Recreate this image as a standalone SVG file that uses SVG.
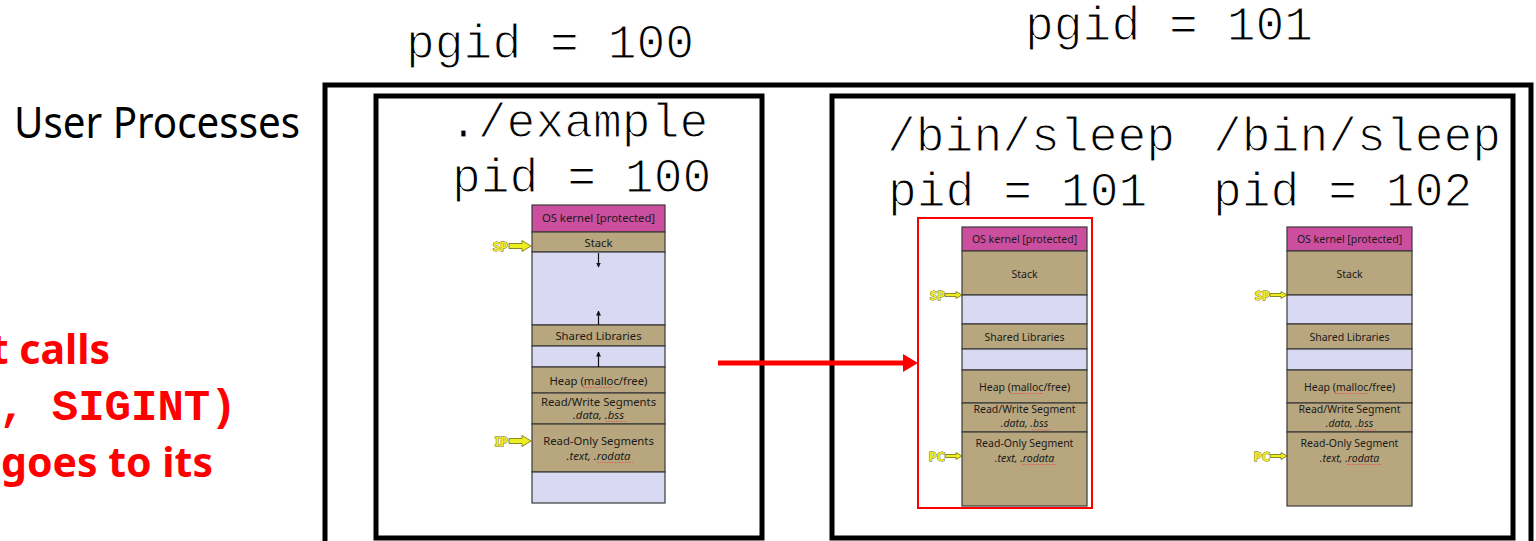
<svg xmlns="http://www.w3.org/2000/svg" xmlns:xlink="http://www.w3.org/1999/xlink" width="1536" height="541" viewBox="0 0 1536 541">
  <style>
    .mono { font-family: "Liberation Mono", "Courier New", monospace; font-size: 48px; fill: #000; stroke: #FFFFFF; stroke-width: 1.2; }
    .title { font-family: "Noto Sans", "Open Sans", sans-serif; font-size: 43px; fill: #000; }
    .note { font-family: "Noto Sans", "Open Sans", sans-serif; font-size: 41px; font-weight: bold; fill: #FF0000; }
    .notemono { font-family: "Liberation Mono", "Courier New", monospace; font-size: 44px; font-weight: bold; fill: #FF0000; }
    .frame { fill: none; stroke: #000; stroke-width: 5; }
    .cell { stroke: #3a3a3a; stroke-width: 1.2; }
    .kern { fill: #CC4F9F; }
    .seg { fill: #B8A67E; }
    .free { fill: #D9D9F4; }
    .lbl { font-family: "Noto Sans", "Open Sans", sans-serif; font-size: 10.5px; fill: #1a1a1a; text-anchor: middle; }
    .big { font-size: 11.3px; }
    .ital { font-style: italic; }
    .squig { fill: none; stroke: #E05A5A; stroke-width: 0.9; stroke-dasharray: 1.5 1; }
    .ptr { fill: #EDED1F; stroke: #5C5C00; stroke-width: 0.7; }
    .ptrlbl { font-family: "Noto Sans", "Open Sans", sans-serif; font-weight: bold; font-size: 13px; fill: #EDED1F; stroke: #5C5C00; stroke-width: 0.8; paint-order: stroke; text-anchor: end; }
    .grow { stroke: #111; stroke-width: 1.2; marker-end: url(#tip); }
    .signal { stroke: #FF0000; stroke-width: 5; fill: none; }
  </style>
  <defs>
    <marker id="tip" markerWidth="5" markerHeight="5" refX="4.5" refY="2.5" orient="auto" markerUnits="userSpaceOnUse">
      <path d="M0,0 L5,2.5 L0,5 z" fill="#111"/>
    </marker>
    <!-- address space of a /bin/sleep process, top-left of the column at (0,0) -->
    <g id="sleep-layout">
      <rect class="kern cell" x="0" y="0" width="125" height="24"/>
      <rect class="seg cell" x="0" y="24" width="125" height="44"/>
      <rect class="free cell" x="0" y="68" width="125" height="29"/>
      <rect class="seg cell" x="0" y="97" width="125" height="25"/>
      <rect class="free cell" x="0" y="122" width="125" height="21"/>
      <rect class="seg cell" x="0" y="143" width="125" height="33"/>
      <rect class="seg cell" x="0" y="176" width="125" height="29"/>
      <rect class="seg cell" x="0" y="205" width="125" height="74"/>
      <text class="lbl" x="62.5" y="16">OS kernel [protected]</text>
      <text class="lbl" x="62.5" y="51">Stack</text>
      <text class="lbl" x="62.5" y="114">Shared Libraries</text>
      <text class="lbl" x="62.5" y="164">Heap (malloc/free)</text>
      <text class="lbl" x="62.5" y="186">Read/Write Segment</text>
      <text class="lbl ital" x="62.5" y="200">.data, .bss</text>
      <text class="lbl" x="62.5" y="220">Read-Only Segment</text>
      <text class="lbl ital" x="62.5" y="235">.text, .rodata</text>
      <path class="squig" d="M48,166.5 H81"/>
      <path class="squig" d="M70,203 H90"/>
      <path class="squig" d="M60,237.5 H95"/>
      <text class="ptrlbl" x="-17" y="72.5">SP</text>
      <polygon class="ptr" points="-17,66.5 -6,66.5 -6,64.5 0,68 -6,71.5 -6,69.5 -17,69.5"/>
      <text class="ptrlbl" x="-17" y="233.5">PC</text>
      <polygon class="ptr" points="-17,227.5 -6,227.5 -6,225.5 0,229 -6,232.5 -6,230.5 -17,230.5"/>
    </g>
  </defs>

  <rect width="1536" height="541" fill="#FFFFFF"/>

  <!-- headings -->
  <g id="heading-pgid-100">
    <text class="mono" x="406" y="58">pgid = 100</text>
  </g>
  <g id="heading-pgid-101">
    <text class="mono" x="1025" y="40">pgid = 101</text>
  </g>
  <g id="heading-user">
    <text class="title" x="14" y="138" textLength="286" lengthAdjust="spacingAndGlyphs">User Processes</text>
  </g>
  <g id="note">
    <text class="note" x="110" y="364" text-anchor="end">t calls</text>
    <text class="notemono" x="-1" y="420">, SIGINT)</text>
    <text class="note" x="213" y="477" text-anchor="end">y goes to its</text>
  </g>

  <!-- all user processes -->
  <g id="user-processes">
    <rect class="frame" x="325" y="85" width="1206" height="470"/>
  </g>

  <!-- process group 100 -->
  <g id="group-100">
    <rect class="frame" x="376" y="96" width="386" height="442"/>
    <text class="mono" x="449" y="137">./example</text>
    <text class="mono" x="452" y="192">pid = 100</text>
  </g>

  <!-- ./example address space -->
  <g id="vm-example">
    <rect class="kern cell" x="532" y="205" width="133" height="27"/>
    <rect class="seg cell" x="532" y="232" width="133" height="20"/>
    <rect class="free cell" x="532" y="252" width="133" height="73"/>
    <rect class="seg cell" x="532" y="325" width="133" height="21"/>
    <rect class="free cell" x="532" y="346" width="133" height="21"/>
    <rect class="seg cell" x="532" y="367" width="133" height="26"/>
    <rect class="seg cell" x="532" y="393" width="133" height="31"/>
    <rect class="seg cell" x="532" y="424" width="133" height="48"/>
    <rect class="free cell" x="532" y="472" width="133" height="31"/>
    <text class="lbl big" x="598.5" y="222">OS kernel [protected]</text>
    <text class="lbl big" x="598.5" y="247">Stack</text>
    <text class="lbl big" x="598.5" y="340">Shared Libraries</text>
    <text class="lbl big" x="598.5" y="385">Heap (malloc/free)</text>
    <text class="lbl big" x="598.5" y="406">Read/Write Segments</text>
    <text class="lbl big ital" x="598.5" y="419">.data, .bss</text>
    <text class="lbl big" x="598.5" y="445">Read-Only Segments</text>
    <text class="lbl big ital" x="598.5" y="460">.text, .rodata</text>
    <path class="squig" d="M583,387.5 H613"/>
    <path class="squig" d="M606,421.5 H625"/>
    <path class="squig" d="M597,462.5 H633"/>
    <line class="grow" x1="598.5" y1="253" x2="598.5" y2="267"/>
    <line class="grow" x1="598.5" y1="325" x2="598.5" y2="311"/>
    <line class="grow" x1="598.5" y1="367" x2="598.5" y2="352"/>
    <text class="ptrlbl" x="508" y="251">SP</text>
    <polygon class="ptr" points="509,243.5 522,243.5 522,240.5 531,246 522,251.5 522,248.5 509,248.5"/>
    <text class="ptrlbl" x="508" y="446">IP</text>
    <polygon class="ptr" points="509,438.5 522,438.5 522,435.5 531,441 522,446.5 522,443.5 509,443.5"/>
  </g>

  <!-- process group 101 -->
  <g id="group-101">
    <rect class="frame" x="832" y="96" width="681" height="442"/>
  </g>

  <g id="proc-101">
    <text class="mono" x="887" y="151">/bin/sleep</text>
    <text class="mono" x="888" y="206">pid = 101</text>
    <use xlink:href="#sleep-layout" x="962" y="227"/>
    <rect x="918" y="218" width="174" height="290" fill="none" stroke="#FF0000" stroke-width="2"/>
  </g>

  <g id="proc-102">
    <text class="mono" x="1213" y="151">/bin/sleep</text>
    <text class="mono" x="1213" y="206">pid = 102</text>
    <use xlink:href="#sleep-layout" x="1287" y="227"/>
  </g>

  <!-- signal delivery -->
  <g id="connectors">
    <line class="signal" x1="718" y1="363" x2="905" y2="363"/>
    <polygon points="903,354 918,363 903,372" fill="#FF0000"/>
  </g>
</svg>
